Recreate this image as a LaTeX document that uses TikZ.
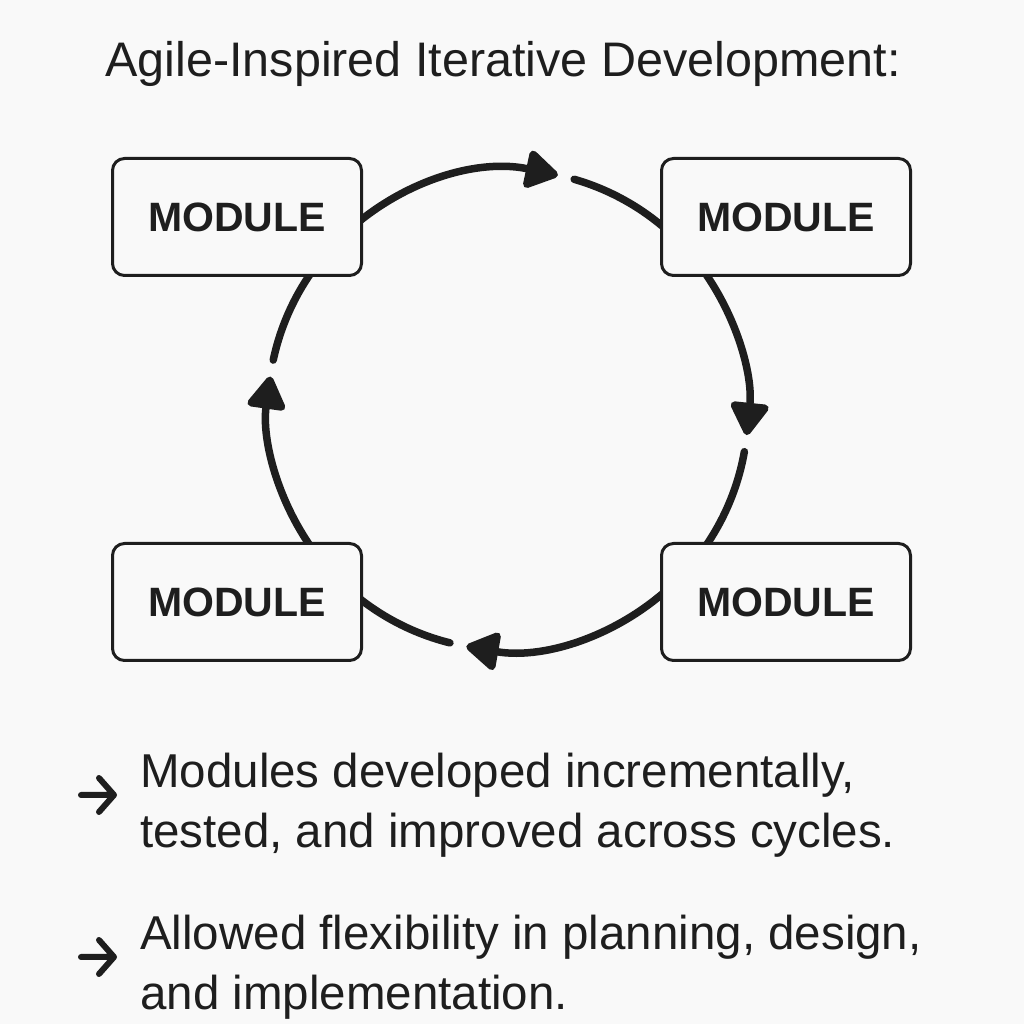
\documentclass[tikz,border=0pt]{standalone}
\usepackage{fontspec}
\setmainfont{Liberation Sans}
\usetikzlibrary{arrows.meta}
\definecolor{ink}{HTML}{1E1E1E}
\definecolor{bg}{HTML}{F9F9F9}
\begin{document}
\begin{tikzpicture}[x=1pt,y=1pt,
  box/.style={draw=ink, line width=3pt, rounded corners=12pt, fill=bg,
    minimum width=249pt, minimum height=117pt, inner sep=0pt,
    font=\fontsize{41}{48}\selectfont\bfseries, text=ink},
  flow/.style={draw=ink, line width=7.5pt, line cap=round},
  flowarr/.style={flow, -{Triangle[length=36pt,width=42pt,round]}},
  bullet/.style={draw=ink, line width=6pt, line cap=round, line join=round},
  txt/.style={anchor=base west, inner sep=0pt, text=ink, font=\fontsize{47.5}{60}\selectfont},
  ttl/.style={anchor=base, inner sep=0pt, text=ink, font=\fontsize{48.5}{56}\selectfont}]
\path[fill=bg, use as bounding box] (0,0) rectangle (1024,1024);

\coordinate (c) at (508,614);
\def\R{240}

% cycle arcs
\draw[flowarr] ([shift={(142:\R)}]c) arc[start angle=142, end angle=78, radius=\R];
\draw[flow]    ([shift={(74:\R)}]c) arc[start angle=74, end angle=36, radius=\R];
\draw[flowarr] ([shift={(37:\R)}]c) arc[start angle=37, end angle=-6, radius=\R];
\draw[flow]    ([shift={(-10:\R)}]c) arc[start angle=-10, end angle=-45, radius=\R];
\draw[flowarr] ([shift={(-43:\R)}]c) arc[start angle=-43, end angle=-100, radius=\R];
\draw[flow]    ([shift={(-104:\R)}]c) arc[start angle=-104, end angle=-140, radius=\R];
\draw[flowarr] ([shift={(217:\R)}]c) arc[start angle=217, end angle=172, radius=\R];
\draw[flow]    ([shift={(168:\R)}]c) arc[start angle=168, end angle=138, radius=\R];

% modules
\node[box] (tl) at (237,807) {MODULE};
\node[box] (tr) at (786,807) {MODULE};
\node[box] (bl) at (237,422) {MODULE};
\node[box] (br) at (786,422) {MODULE};

% title
\node[ttl] (title) at (503,947) {Agile-Inspired Iterative Development:};

% bullets
\draw[bullet] (81,229) -- (112,229) (99,246) -- (114,229) -- (99,212);
\node[txt] (b1a) at (140,236) {Modules developed incrementally,};
\node[txt] (b1b) at (140,176) {tested, and improved across cycles.};
\draw[bullet] (81,67) -- (112,67) (99,84) -- (114,67) -- (99,50);
\node[txt] (b2a) at (140,74) {Allowed flexibility in planning, design,};
\node[txt] (b2b) at (140,14) {and implementation.};
\end{tikzpicture}
\end{document}
